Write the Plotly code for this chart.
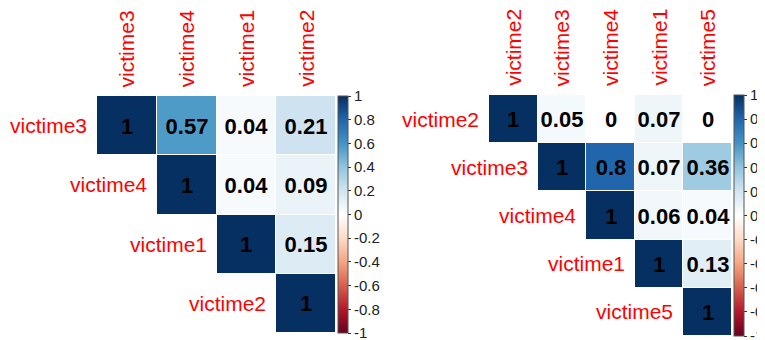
import plotly.graph_objects as go
import numpy as np

# ---- data ----
left_labels = ["victime3", "victime4", "victime1", "victime2"]
left_row_victime3 = [1, 0.57, 0.04, 0.21]
left_row_victime4 = [None, 1, 0.04, 0.09]
left_row_victime1 = [None, None, 1, 0.15]
left_row_victime2 = [None, None, None, 1]

right_labels = ["victime2", "victime3", "victime4", "victime1", "victime5"]
right_row_victime2 = [1, 0.05, 0, 0.07, 0]
right_row_victime3 = [None, 1, 0.8, 0.07, 0.36]
right_row_victime4 = [None, None, 1, 0.06, 0.04]
right_row_victime1 = [None, None, None, 1, 0.13]
right_row_victime5 = [None, None, None, None, 1]

cbar_ticks = [1, 0.8, 0.6, 0.4, 0.2, 0, -0.2, -0.4, -0.6, -0.8, -1]

# corrplot RdBu palette
colors = ["#67001F", "#B2182B", "#D6604D", "#F4A582", "#FDDBC7", "#FFFFFF",
          "#D1E5F0", "#92C5DE", "#4393C3", "#2166AC", "#053061"]
colorscale = [[i / 10, c] for i, c in enumerate(colors)]

# page body has an 8px margin; figure is sized to fit the 765x340 window
OFF = 8
W, H = 765 - OFF, 340 - OFF
FONT = "Liberation Sans, Arial, sans-serif"


def fmt(v):
    if v is None:
        return ""
    s = f"{v:.2f}".rstrip("0").rstrip(".")
    return s


def tick_fmt(v):
    s = f"{v:.1f}".rstrip("0").rstrip(".")
    return "0" if s in ("-0", "0") else s


fig = go.Figure()

panels = [
    dict(labels=left_labels,
         rows=[left_row_victime3, left_row_victime4, left_row_victime1, left_row_victime2],
         xpx=(97, 336), ypx=(96, 333), cbx=338, ax="", ),
    dict(labels=right_labels,
         rows=[right_row_victime2, right_row_victime3, right_row_victime4,
               right_row_victime1, right_row_victime5],
         xpx=(489, 732), ypx=(95, 336), cbx=734, ax="2"),
]

annotations = []
for p in panels:
    labels = p["labels"]
    n = len(labels)
    z = np.array([[np.nan if v is None else v for v in r] for r in p["rows"]], dtype=float)
    txt = [[fmt(v) for v in r] for r in p["rows"]]
    x0, x1 = p["xpx"][0] - OFF, p["xpx"][1] - OFF
    y0, y1 = p["ypx"][0] - OFF, p["ypx"][1] - OFF
    xd = [x0 / W, x1 / W]
    yd = [1 - y1 / H, 1 - y0 / H]
    xa = "x" + p["ax"]
    ya = "y" + p["ax"]
    fig.add_trace(go.Heatmap(
        z=z, x=list(range(n)), y=list(range(n)), text=txt,
        texttemplate="<b>%{text}</b>",
        textfont=dict(family=FONT, size=22, color="black"),
        colorscale=colorscale, zmin=-1, zmax=1, xgap=1, ygap=1,
        xaxis=xa, yaxis=ya, hoverongaps=False,
        colorbar=dict(
            x=(p["cbx"] - OFF) / W, xanchor="left", xref="paper",
            y=(yd[0] + yd[1]) / 2, yanchor="middle",
            len=y1 - y0, lenmode="pixels",
            thickness=10, outlinewidth=1, outlinecolor="#555555",
            tickvals=cbar_ticks, ticktext=[tick_fmt(t) for t in cbar_ticks],
            ticks="outside", ticklen=3, tickcolor="#333333",
            tickfont=dict(family=FONT, size=15, color="#222222"),
            ticklabeloverflow="allow",
            xpad=0, ypad=0,
        ),
    ))
    layout_x = dict(domain=xd, range=[-0.5, n - 0.5], showticklabels=False,
                    showgrid=False, zeroline=False, ticks="", anchor=ya)
    layout_y = dict(domain=yd, range=[n - 0.5, -0.5], showticklabels=False,
                    showgrid=False, zeroline=False, ticks="", anchor=xa)
    if p["ax"] == "":
        fig.update_layout(xaxis=layout_x, yaxis=layout_y)
    else:
        fig.update_layout(xaxis2=layout_x, yaxis2=layout_y)
    # column labels (top, rotated)
    for j, lab in enumerate(labels):
        annotations.append(dict(
            x=j, y=-0.5, xref=xa, yref=ya, text=lab, textangle=-90,
            xanchor="center", yanchor="bottom", yshift=7, showarrow=False,
            font=dict(family=FONT, size=21, color="#FF0000")))
    # row labels (left of diagonal)
    for i, lab in enumerate(labels):
        annotations.append(dict(
            x=i - 0.5, y=i, xref=xa, yref=ya, text=lab,
            xanchor="right", yanchor="middle", xshift=-8, showarrow=False,
            font=dict(family=FONT, size=21, color="#FF0000")))

fig.update_layout(
    width=W, height=H, margin=dict(l=0, r=0, t=0, b=0, autoexpand=False),
    paper_bgcolor="white", plot_bgcolor="white",
    annotations=annotations, showlegend=False,
)

fig.write_html("out.html")
